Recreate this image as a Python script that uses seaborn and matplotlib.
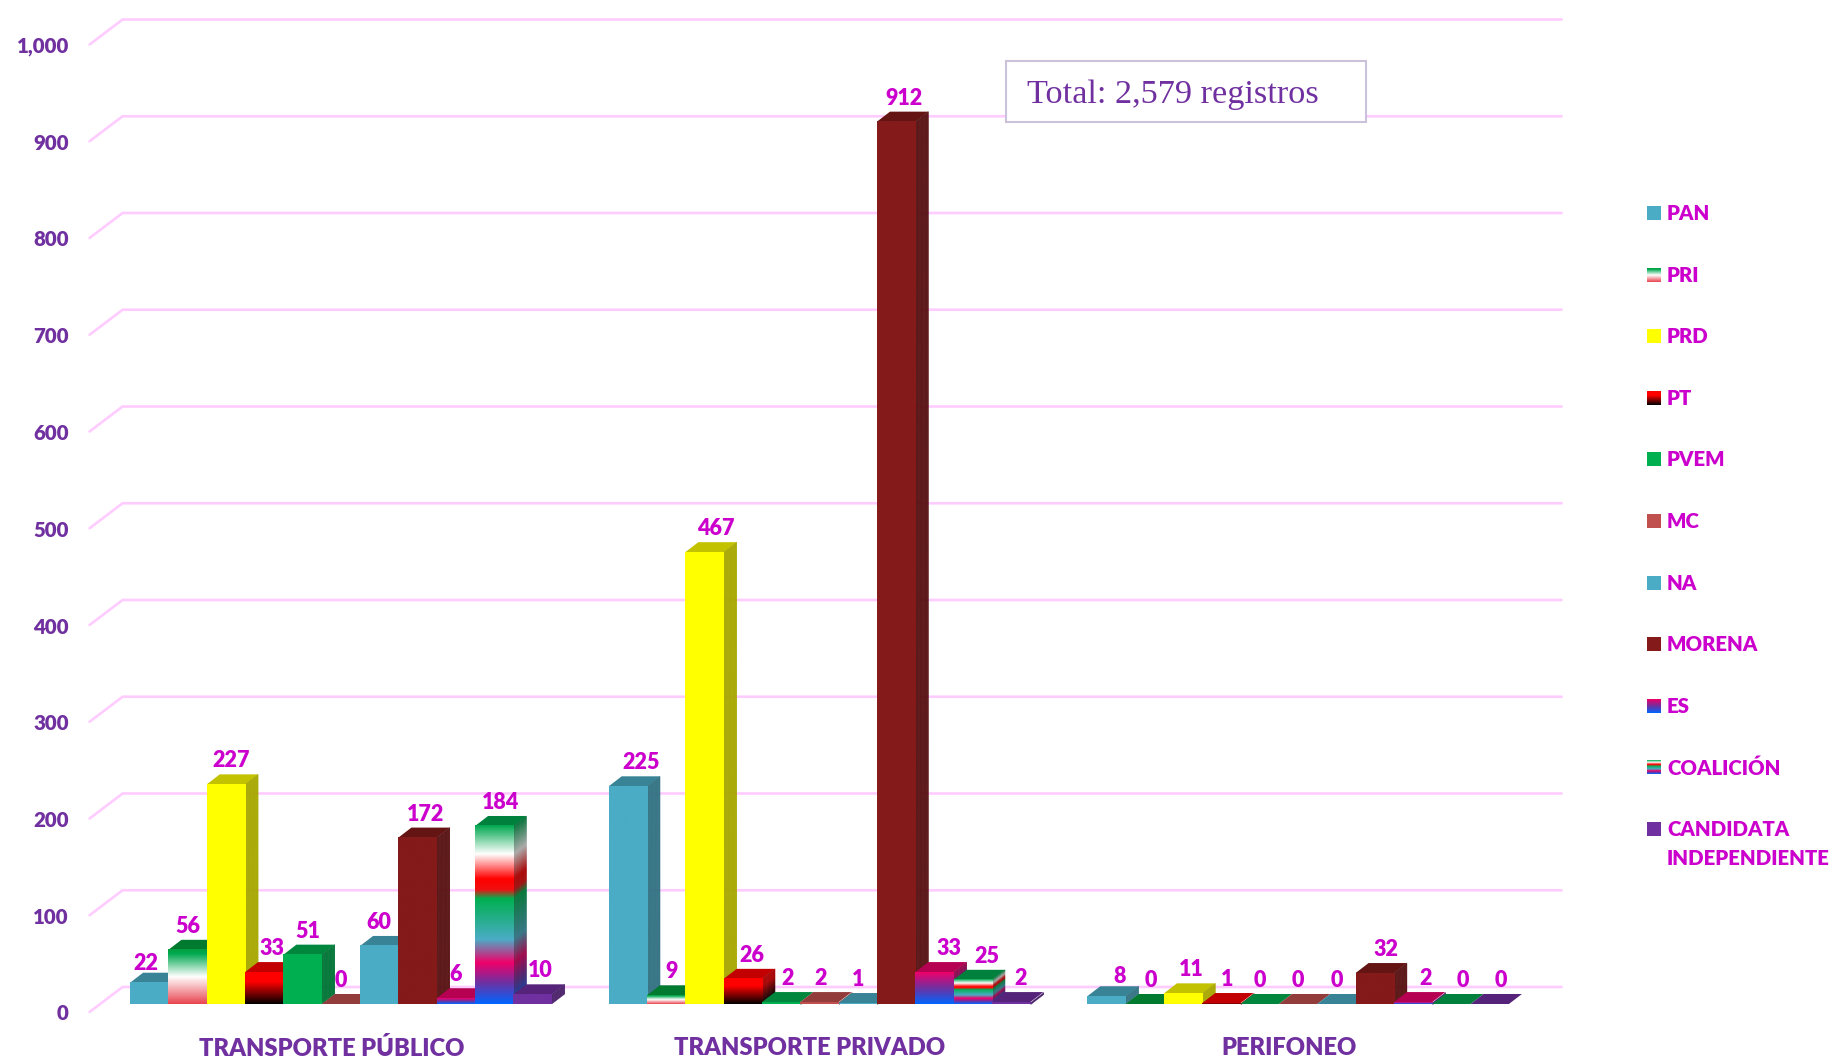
import numpy as np
import pandas as pd
import matplotlib
matplotlib.use("Agg")
import matplotlib.pyplot as plt
import seaborn as sns
from matplotlib.collections import PolyCollection
from matplotlib.colors import LinearSegmentedColormap, to_rgb
from matplotlib.patches import Polygon, Rectangle
from matplotlib.ticker import FuncFormatter
from matplotlib.transforms import ScaledTranslation

# --- datos ---
medios = ["TRANSPORTE PÚBLICO", "TRANSPORTE PRIVADO", "PERIFONEO"]
partidos = ["PAN", "PRI", "PRD", "PT", "PVEM", "MC", "NA", "MORENA", "ES", "COALICIÓN",
            "CANDIDATA\nINDEPENDIENTE"]
publico = [22, 56, 227, 33, 51, 0, 60, 172, 6, 184, 10]
privado = [225, 9, 467, 26, 2, 2, 1, 912, 33, 25, 2]
perifoneo = [8, 0, 11, 1, 0, 0, 0, 32, 2, 0, 0]
total_texto = "Total: 2,579 registros"

# ajuste horizontal de cada etiqueta (px)
nudge_publico = [-3, 0, 5, 8, 5, 0, 0, 8, 0, 6, 8]
nudge_privado = [13, 5, 11, 9, 6, 1, 0, 8, 14, 14, 9]
nudge_perifoneo = [13, 6, 8, 6, 0, 0, 0, 11, 13, 11, 11]

# --- colores ---
MORADO = "#7030A0"
MAGENTA = "#CC00CC"
REJILLA = "#FFCCFF"
PESO = "heavy"
colores = {
    "PAN": [(0, "#4BACC6"), (1, "#4BACC6")],
    "PRI": [(0, "#00A03C"), (0.08, "#00A850"), (0.5, "#FFFFFF"), (1, "#E8444F")],
    "PRD": [(0, "#FFFF00"), (1, "#FFFF00")],
    "PT": [(0, "#FF0000"), (0.3, "#FF0000"), (1, "#000000")],
    "PVEM": [(0, "#00B050"), (1, "#00B050")],
    "MC": [(0, "#C0504D"), (1, "#C0504D")],
    "NA": [(0, "#4BACC6"), (1, "#4BACC6")],
    "MORENA": [(0, "#851A1A"), (1, "#851A1A")],
    "ES": [(0, "#F0006A"), (0.5, "#7030A0"), (1, "#0066FF")],
    "COALICIÓN": [(0, "#00A850"), (0.16, "#FFFFFF"), (0.3, "#FF0000"), (0.36, "#F01010"),
                  (0.41, "#00B050"), (0.64, "#4BACC6"), (0.77, "#F0006A"),
                  (0.88, "#7030A0"), (1, "#0066FF")],
    "CANDIDATA\nINDEPENDIENTE": [(0, "#7030A0"), (1, "#7030A0")],
}
mapas = {k: LinearSegmentedColormap.from_list(k, v, N=256) for k, v in colores.items()}

sns.set_theme(style="white")
plt.rcParams["font.family"] = ["Lato", "DejaVu Sans"]
plt.rcParams["font.weight"] = PESO

df = pd.DataFrame({
    "medio": np.repeat(medios, len(partidos)),
    "partido": partidos * len(medios),
    "registros": publico + privado + perifoneo,
})

W, H = 1833, 1060
fig = plt.figure(figsize=(W / 100, H / 100), dpi=100, facecolor="white")
ax = fig.add_axes([101.6 / W, (H - 1004) / H, 1435.8 / W, 967.5 / H])
ax.patch.set_alpha(0)

sns.barplot(data=df, x="medio", y="registros", hue="partido", hue_order=partidos,
            order=medios, palette={p: colores[p][0][1] for p in partidos}, saturation=1,
            width=0.881, gap=0, legend=False, linewidth=0, ax=ax)

ax.set_xlim(-0.5, 2.5)
ax.set_ylim(0, 1000)
ax.set_xlabel("")
ax.set_ylabel("")
sns.despine(ax=ax, left=True, bottom=True)
ax.grid(False)

# tamaño de un pixel en unidades de datos
px = 3 / 1435.8
py = 1000 / 967.5
prof_x, prof_y = 13 * px, 10 * py

# --- rejilla con profundidad ---
ticks = np.arange(0, 1001, 100)
for t in ticks:
    xs = [-0.5 - 12 * px, -0.5 + 21 * px, -0.5 + 1460 * px]
    ys = [t - 8 * py, t + 17 * py, t + 17 * py]
    ax.plot(xs, ys, color=REJILLA, lw=1.9, clip_on=False, zorder=1, solid_joinstyle="miter")


def oscurecer(color, f):
    return tuple(c * f for c in to_rgb(color))


# --- barras: caras lateral, superior y frontal ---
valores = [publico, privado, perifoneo]
nudges = [nudge_publico, nudge_privado, nudge_perifoneo]
z = 3
for g in range(len(medios)):
    for i, partido in enumerate(partidos):
        bar = ax.containers[i][g]
        x0, w, h = bar.get_x(), bar.get_width(), bar.get_height()
        x1 = x0 + w
        mapa = mapas[partido]
        bar.set_visible(False)
        # cara superior
        ax.add_patch(Polygon([(x0, h), (x1, h), (x1 + prof_x, h + prof_y), (x0 + prof_x, h + prof_y)],
                             closed=True, fc=oscurecer(colores[partido][0][1], 0.76), ec="none", zorder=z))
        # cara lateral en franjas
        if h > 0:
            n = max(1, int(h / py))
            bordes = np.linspace(h, 0, n + 1)
            franjas = [[(x1, a), (x1, b), (x1 + prof_x, b + prof_y), (x1 + prof_x, a + prof_y)]
                       for a, b in zip(bordes[:-1], bordes[1:])]
            tonos = [oscurecer(mapa(t)[:3], 0.66) for t in (np.arange(n) + 0.5) / n]
            ax.add_collection(PolyCollection(franjas, facecolors=tonos, edgecolors=tonos,
                                             linewidths=0.3, zorder=z), autolim=False)
            # cara frontal
            grad = mapa(np.linspace(0, 1, 256)).reshape(256, 1, 4)
            ax.imshow(grad, extent=(x0, x1, 0, h), origin="upper", aspect="auto", zorder=z + 1,
                      interpolation="bilinear")
        z += 2
        # etiqueta
        val = valores[g][i]
        alto = 13 if val in (22, 8) else 17
        ax.annotate(str(val), xy=(x0 + w / 2, h), xytext=(nudges[g][i] * 0.72, alto * 0.72),
                    textcoords="offset points", ha="center", va="baseline", color=MAGENTA,
                    fontsize=15.5, fontweight=PESO, zorder=500, annotation_clip=False)

ax.set_xlim(-0.5, 2.5)
ax.set_ylim(0, 1000)

# --- ejes ---
ax.set_yticks(ticks)
ax.yaxis.set_major_formatter(FuncFormatter(lambda v, _: f"{int(v):,}"))
ax.tick_params(axis="y", length=0, pad=23.5, labelsize=14.8, labelcolor=MORADO)
ax.tick_params(axis="x", length=0, pad=24, labelsize=17.1, labelcolor=MORADO)
izq = ScaledTranslation(-9.5 / 100, 0, fig.dpi_scale_trans)
for lab in ax.get_yticklabels():
    lab.set_fontweight(PESO)
    lab.set_transform(lab.get_transform() + ScaledTranslation(0, -8.5 / 100, fig.dpi_scale_trans))
for lab in ax.get_xticklabels():
    lab.set_fontweight(PESO)
    lab.set_transform(lab.get_transform() + izq)

# --- capa en pixeles: leyenda y recuadro ---
ov = fig.add_axes([0, 0, 1, 1], zorder=10)
ov.patch.set_alpha(0)
ov.axis("off")
for k, partido in enumerate(partidos):
    yc = 213 + 61.6 * k
    grad = mapas[partido](np.linspace(0, 1, 64)).reshape(64, 1, 4)
    ov.imshow(grad, extent=(1647, 1661, yc + 7, yc - 7), origin="upper", aspect="auto")
    ov.text(1667, yc - 9, partido, color=MAGENTA, fontsize=14.7, fontweight=PESO,
            ha="left", va="top", linespacing=1.65)

ov.add_patch(Rectangle((1006, 61), 360, 61, fc="white", ec="#CCC1DA", lw=1.5))
ov.text(1027, 95, total_texto, color=MORADO, fontsize=24.7, family="Liberation Serif",
        fontweight="normal", ha="left", va="center")
ov.set_xlim(0, W)
ov.set_ylim(H, 0)

fig.savefig("out.png", dpi=100)
